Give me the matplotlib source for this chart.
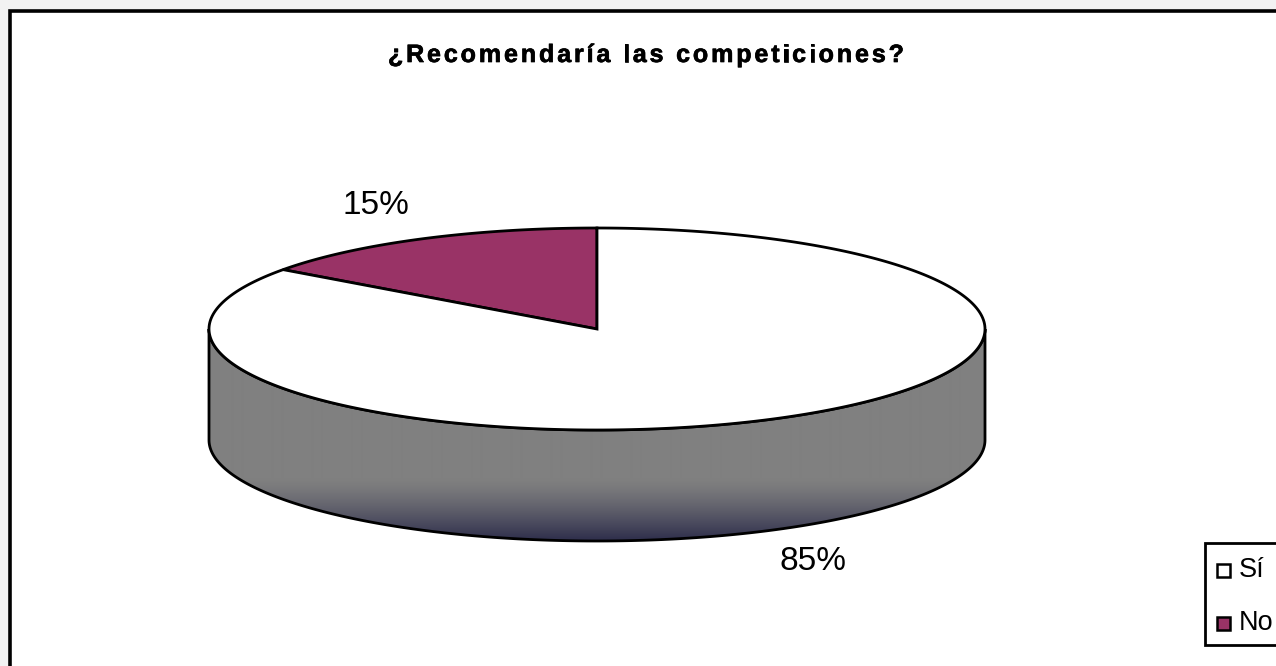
import numpy as np
import matplotlib
matplotlib.use("Agg")
import matplotlib.pyplot as plt
from matplotlib.patches import Polygon, Rectangle
from matplotlib.colors import to_rgb
from matplotlib.font_manager import FontProperties
import matplotlib.patheffects as pe

# ---- data ----
title = "¿Recomendaría las competiciones?"
categories = ["Sí", "No"]
values = [85, 15]
labels = ["85%", "15%"]
colors = ["#ffffff", "#993366"]

plt.rcParams['font.family'] = ['Liberation Sans', 'DejaVu Sans']

W, H = 1276, 666
fig = plt.figure(figsize=(W / 100, H / 100), dpi=100)
fig.patch.set_facecolor("#f2f2f2")
ax = fig.add_axes([0, 0, 1, 1])
ax.set_xlim(0, W)
ax.set_ylim(H, 0)
ax.axis("off")

# chart frame
ax.add_patch(Rectangle((10, 11), W, H, facecolor="white", edgecolor="black",
                       lw=2.6, zorder=0))

# pie geometry (pixel space)
cx, cy, a, b, depth = 597, 329, 388, 101, 111

def ell(t, dy=0.0):
    t = np.radians(t)
    return np.column_stack([cx + a * np.cos(t), cy - b * np.sin(t) + dy])

# side (front half)
t = np.linspace(180, 360, 300)
side = np.vstack([ell(t), ell(t[::-1], depth)])
side_patch = Polygon(side, closed=True, facecolor="none", edgecolor="black",
                     lw=2, zorder=3)
ax.add_patch(side_patch)
# vertical gradient
gray = np.array(to_rgb("#808080"))
dark = np.array(to_rgb("#2c2c4a"))
rows = np.arange(H)
f = np.clip((rows - 478) / (541 - 478), 0, 1) ** 1.3
grad = (gray[None, :] * (1 - f[:, None]) + dark[None, :] * f[:, None])
img = ax.imshow(grad[:, None, :].repeat(2, axis=1), extent=(0, W, H, 0),
                aspect="auto", zorder=2, interpolation="bilinear")
clip = Polygon(side, closed=True, transform=ax.transData)
img.set_clip_path(clip)

# top slices: 'No' starts at 90 deg, counter-clockwise
total = sum(values)
start = 90.0
order = [1, 0]
for i in order:
    span = 360.0 * values[i] / total
    tt = np.linspace(start, start + span, 300)
    pts = np.vstack([[cx, cy], ell(tt)])
    ax.add_patch(Polygon(pts, closed=True, facecolor=colors[i],
                         edgecolor="black", lw=2, zorder=4))
    start += span

# data labels
ax.text(813, 561, labels[0], fontsize=24, ha="center", va="center", zorder=5)
ax.text(376, 206, labels[1], fontsize=24, ha="center", va="center", zorder=5)

# title with letter spacing
fig.canvas.draw()
r = fig.canvas.get_renderer()
fs = 18
fp = FontProperties(family=['Liberation Sans', 'DejaVu Sans'], weight="bold",
                    size=fs)
widths = [r.get_text_width_height_descent(ch, fp, ismath=False)[0]
          for ch in title]
widths = [w if ch != " " else fs * 0.278 * 100 / 72
          for ch, w in zip(title, widths)]
x0, x1 = 388, 904
extra = ((x1 - x0) - sum(widths)) / (len(title) - 1)
x = x0
for ch, w in zip(title, widths):
    ax.text(x, 55, ch, fontproperties=fp, ha="left", va="center", zorder=5,
            path_effects=[pe.withStroke(linewidth=0.5, foreground="black")])
    x += w + extra

# legend
ax.add_patch(Rectangle((1205, 543), 200, 102, facecolor="white",
                       edgecolor="black", lw=2, zorder=5))
for k, (cat, col) in enumerate(zip(categories, colors)):
    yy = 570 + k * 53
    ax.add_patch(Rectangle((1217, yy - 6.5), 13, 13, facecolor=col,
                           edgecolor="black", lw=1.8, zorder=6))
    ax.text(1239, yy, cat, fontsize=19.5, ha="left", va="center", zorder=6)

fig.savefig("out.png", dpi=100, facecolor=fig.get_facecolor())
